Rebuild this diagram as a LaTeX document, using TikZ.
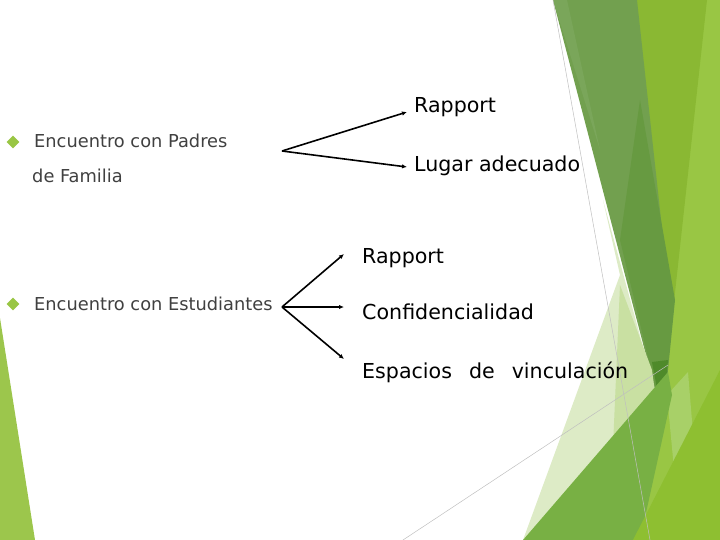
\documentclass[tikz,border=0pt]{standalone}
\usepackage{fontspec}
\setmainfont{DejaVu Sans}
\usetikzlibrary{shapes.geometric,arrows.meta}
\definecolor{olive}{HTML}{72A04F}
\definecolor{olivelight}{HTML}{7AA65A}
\definecolor{olivedark}{HTML}{679A41}
\definecolor{olivetip}{HTML}{4F8A2A}
\definecolor{ygreen}{HTML}{8AB833}
\definecolor{lime}{HTML}{99C644}
\definecolor{limelight}{HTML}{A8D068}
\definecolor{limebot}{HTML}{8EBF31}
\definecolor{pale}{HTML}{DDEBC6}
\definecolor{palemid}{HTML}{C9E0A2}
\definecolor{medgreen}{HTML}{78B044}
\definecolor{lefttri}{HTML}{9CC64C}
\definecolor{bullettxt}{HTML}{404040}
\tikzset{
  lefttext/.style={anchor=base west, inner sep=0pt, text=bullettxt, font=\fontsize{17.8}{20}\selectfont},
  righttext/.style={anchor=base west, inner sep=0pt, text=black, font=\fontsize{20.6}{24}\selectfont},
  bulletmark/.style={diamond, fill=lime, draw=none, inner sep=0pt, minimum size=13pt},
  conn/.style={line width=1.6pt, -{Latex[length=5pt,width=4.5pt]}},
  thinline/.style={draw=black!25, line width=0.5pt}
}
\begin{document}
\begin{tikzpicture}[x=1pt,y=-1pt]
\useasboundingbox (0,0) rectangle (720,540);
% background facets
\fill[lime] (690,0) -- (720,0) -- (720,540) -- (630,540) -- (660,420) -- (665,330) -- cycle;
\fill[ygreen] (600,0) -- (707,0) -- (672,320) -- (660,330) -- cycle;
\fill[olive] (553,0) -- (637,0) -- (672,320) -- (663,420) -- cycle;
\fill[olivelight] (553,0) -- (567,0) -- (600,150) -- cycle;
\fill[olivedark] (640,100) -- (675,300) -- (663,420) -- (620,240) -- cycle;
\fill[pale] (603,200) -- (663,420) -- (523,540) -- (620,275) -- cycle;
\fill[palemid] (620,285) -- (652,370) -- (660,430) -- (612,470) -- cycle;
\fill[olivetip] (652,362) -- (668,360) -- (663,420) -- cycle;
\fill[limelight] (667,395) -- (688,372) -- (696,470) -- (676,490) -- cycle;
\fill[medgreen] (523,540) -- (668,372) -- (672,395) -- (640,540) -- cycle;
\fill[limebot] (633,540) -- (720,540) -- (720,370) -- cycle;
\fill[lefttri] (0,318) -- (35,540) -- (0,540) -- cycle;
\draw[thinline] (553,0) -- (650,540);
\draw[thinline] (403,540) -- (668,365);
% bullets and left text
\node[bulletmark] (b1) at (13,142) {};
\node[lefttext] (t1) at (34,148) {Encuentro con Padres};
\node[lefttext] (t1b) at (32,183) {de Familia};
\node[bulletmark] (b2) at (13,304) {};
\node[lefttext] (t2) at (34,310) {Encuentro con Estudiantes};
% right text
\node[righttext] (r1) at (414,113) {Rapport};
\node[righttext] (r2) at (414,172) {Lugar adecuado};
\node[righttext] (r3) at (362,263) {Rapport};
\node[righttext] (r4) at (362,319) {Confidencialidad};
\node[righttext] (r5) at (362,378) {Espacios\hspace{17pt}de\hspace{17pt}vinculación};
% connectors
\coordinate (o1) at (282,151);
\coordinate (e1) at (407,112);
\coordinate (e2) at (407,167);
\coordinate (o2) at (282,307);
\coordinate (e3) at (344,254);
\coordinate (e4) at (344,307);
\coordinate (e5) at (344,359);
\draw[conn] (o1) -- (e1);
\draw[conn] (o1) -- (e2);
\draw[conn] (o2) -- (e3);
\draw[conn] (o2) -- (e4);
\draw[conn] (o2) -- (e5);
\end{tikzpicture}
\end{document}
